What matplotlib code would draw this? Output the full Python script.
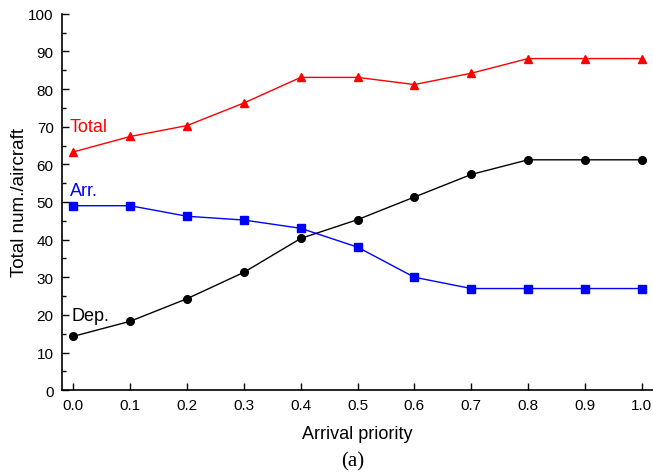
import matplotlib
matplotlib.use("Agg")
import matplotlib.pyplot as plt
from matplotlib.ticker import MultipleLocator

x = [0.0, 0.1, 0.2, 0.3, 0.4, 0.5, 0.6, 0.7, 0.8, 0.9, 1.0]
total = [63.3, 67.4, 70.3, 76.3, 83.1, 83.1, 81.2, 84.2, 88.1, 88.1, 88.1]
arr = [49.0, 49.0, 46.2, 45.2, 43.0, 38.0, 30.0, 27.0, 27.0, 27.0, 27.0]
dep = [14.3, 18.3, 24.3, 31.3, 40.3, 45.3, 51.3, 57.3, 61.2, 61.2, 61.2]
xticks = [0.0, 0.1, 0.2, 0.3, 0.4, 0.5, 0.6, 0.7, 0.8, 0.9, 1.0]

plt.rcParams['font.family'] = ['Liberation Sans', 'DejaVu Sans']

fig = plt.figure(figsize=(6.53, 4.77), dpi=100)
ax = fig.add_axes([0.095, 0.18, 0.905, 0.789])

ax.plot(x, total, color='red', marker='^', markersize=6, linewidth=1)
ax.plot(x, arr, color='blue', marker='s', markersize=5.5, linewidth=1)
ax.plot(x, dep, color='black', marker='o', markersize=5.5, linewidth=1)

ax.text(-0.006, 70, 'Total', color='red', fontsize=13, va='center', ha='left')
ax.text(-0.006, 53.0, 'Arr.', color='blue', fontsize=13, va='center', ha='left')
ax.text(-0.003, 19.7, 'Dep.', color='black', fontsize=13, va='center', ha='left')

ax.set_xlim(-0.02, 1.02)
ax.set_ylim(0, 100)
ax.set_xticks(xticks)
ax.set_xticklabels([f"{v:.1f}" for v in xticks])
ax.yaxis.set_major_locator(MultipleLocator(10))
ax.yaxis.set_minor_locator(MultipleLocator(5))
ax.tick_params(axis='both', which='major', direction='in', length=5, width=1, labelsize=11, pad=6)
ax.tick_params(axis='y', which='minor', direction='in', length=3, width=1)
ax.spines['top'].set_visible(False)
ax.spines['right'].set_visible(False)
ax.spines['left'].set_linewidth(1.2)
ax.spines['bottom'].set_linewidth(1.2)

ax.set_xlabel('Arrival priority', fontsize=13, labelpad=9)
ax.set_ylabel('Total num./aircraft', fontsize=13.5, labelpad=0)

fig.text(0.54, 0.032, '(a)', fontsize=15, family=['Liberation Serif'], ha='center', va='center')

fig.savefig('out.png', dpi=100)
